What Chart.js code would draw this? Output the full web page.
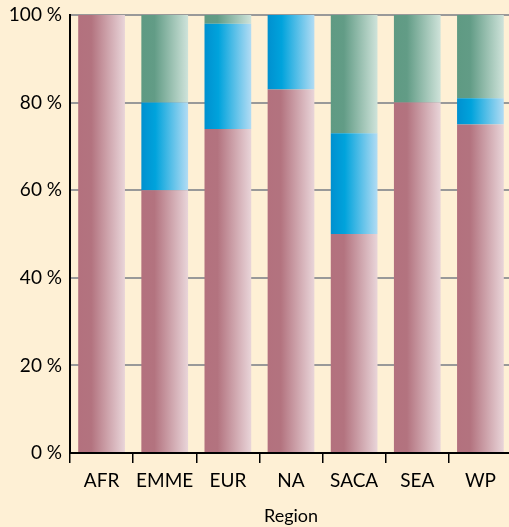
<!DOCTYPE html>
<html>
<head>
<meta charset="utf-8">
<script src="https://cdn.jsdelivr.net/npm/chart.js@4/dist/chart.umd.min.js"></script>
<style>
  html, body { margin: 0; padding: 0; background: #fef0d5; overflow: hidden; }
  #wrap { width: 509px; height: 527px; overflow: hidden; }
  canvas { display: block; }
</style>
</head>
<body>
<div id="wrap"><canvas id="myChart" width="512" height="527"></canvas></div>
<script>
var regions = ["AFR", "EMME", "EUR", "NA", "SACA", "SEA", "WP"];
var pinkShare = [100, 60, 74, 83, 50, 80, 75];
var blueShare = [0, 20, 24, 17, 23, 0, 6];
var greenShare = [0, 20, 2, 0, 27, 20, 19];
var yTicks = [0, 20, 40, 60, 80, 100];

// left-to-right shading stops for each series
var pinkStops = [[0, "#b3717e"], [0.28, "#b3737f"], [1, "#e9d5d9"]];
var blueStops = [[0, "#0090cf"], [0.3, "#00a3dc"], [1, "#b2dcf4"]];
var greenStops = [[0, "#5f9a83"], [0.28, "#629c86"], [1, "#cfe3da"]];

var barPct = 0.74;

function shade(stops) {
    return function (context) {
        var chart = context.chart;
        var area = chart.chartArea;
        var xs = chart.scales && chart.scales.x;
        if (!area || !xs || context.dataIndex === undefined) return stops[0][1];
        var cx = xs.getPixelForValue(context.dataIndex);
        var half = (area.right - area.left) / regions.length * barPct / 2;
        var g = chart.ctx.createLinearGradient(cx - half, 0, cx + half, 0);
        stops.forEach(function (s) { g.addColorStop(s[0], s[1]); });
        return g;
    };
}

var ctx = document.getElementById("myChart").getContext("2d");

var data = {
    labels: regions,
    datasets: [
        { label: "Share 1", data: pinkShare, backgroundColor: shade(pinkStops) },
        { label: "Share 2", data: blueShare, backgroundColor: shade(blueStops) },
        { label: "Share 3", data: greenShare, backgroundColor: shade(greenStops) }
    ]
};

var myBarChart = new Chart(ctx, {
    type: "bar",
    data: data,
    options: {
        responsive: false,
        animation: false,
        layout: { padding: { top: 15, right: 0, left: 0, bottom: 0 } },
        datasets: { bar: { barPercentage: barPct, categoryPercentage: 1, borderWidth: 0 } },
        plugins: { legend: { display: false }, tooltip: { enabled: false } },
        scales: {
            x: {
                stacked: true,
                border: { color: "#000", width: 2 },
                grid: { drawOnChartArea: false, color: "#000", lineWidth: 1.5, tickLength: 10 },
                ticks: { color: "#000", font: { family: "Lato", size: 19 }, padding: 6, maxRotation: 0, autoSkip: false },
                title: { display: true, text: "Region", color: "#000", font: { family: "Lato", size: 18 }, padding: { top: 3, bottom: 0 } },
                afterFit: function (scale) { scale.height = 74; scale.paddingLeft = 0; scale.paddingRight = 0; }
            },
            y: {
                stacked: true,
                min: 0,
                max: 100,
                afterBuildTicks: function (scale) {
                    scale.ticks = yTicks.map(function (v) { return { value: v }; });
                },
                border: { color: "#000", width: 2 },
                grid: { color: "#999999", lineWidth: 2, drawTicks: false },
                ticks: {
                    color: "#000",
                    font: { family: "Lato", size: 19 },
                    padding: 8,
                    callback: function (v) { return v + " %"; }
                },
                afterFit: function (scale) { scale.width = 70; scale.paddingTop = 0; scale.paddingBottom = 0; }
            }
        }
    }
});
</script>
</body>
</html>
